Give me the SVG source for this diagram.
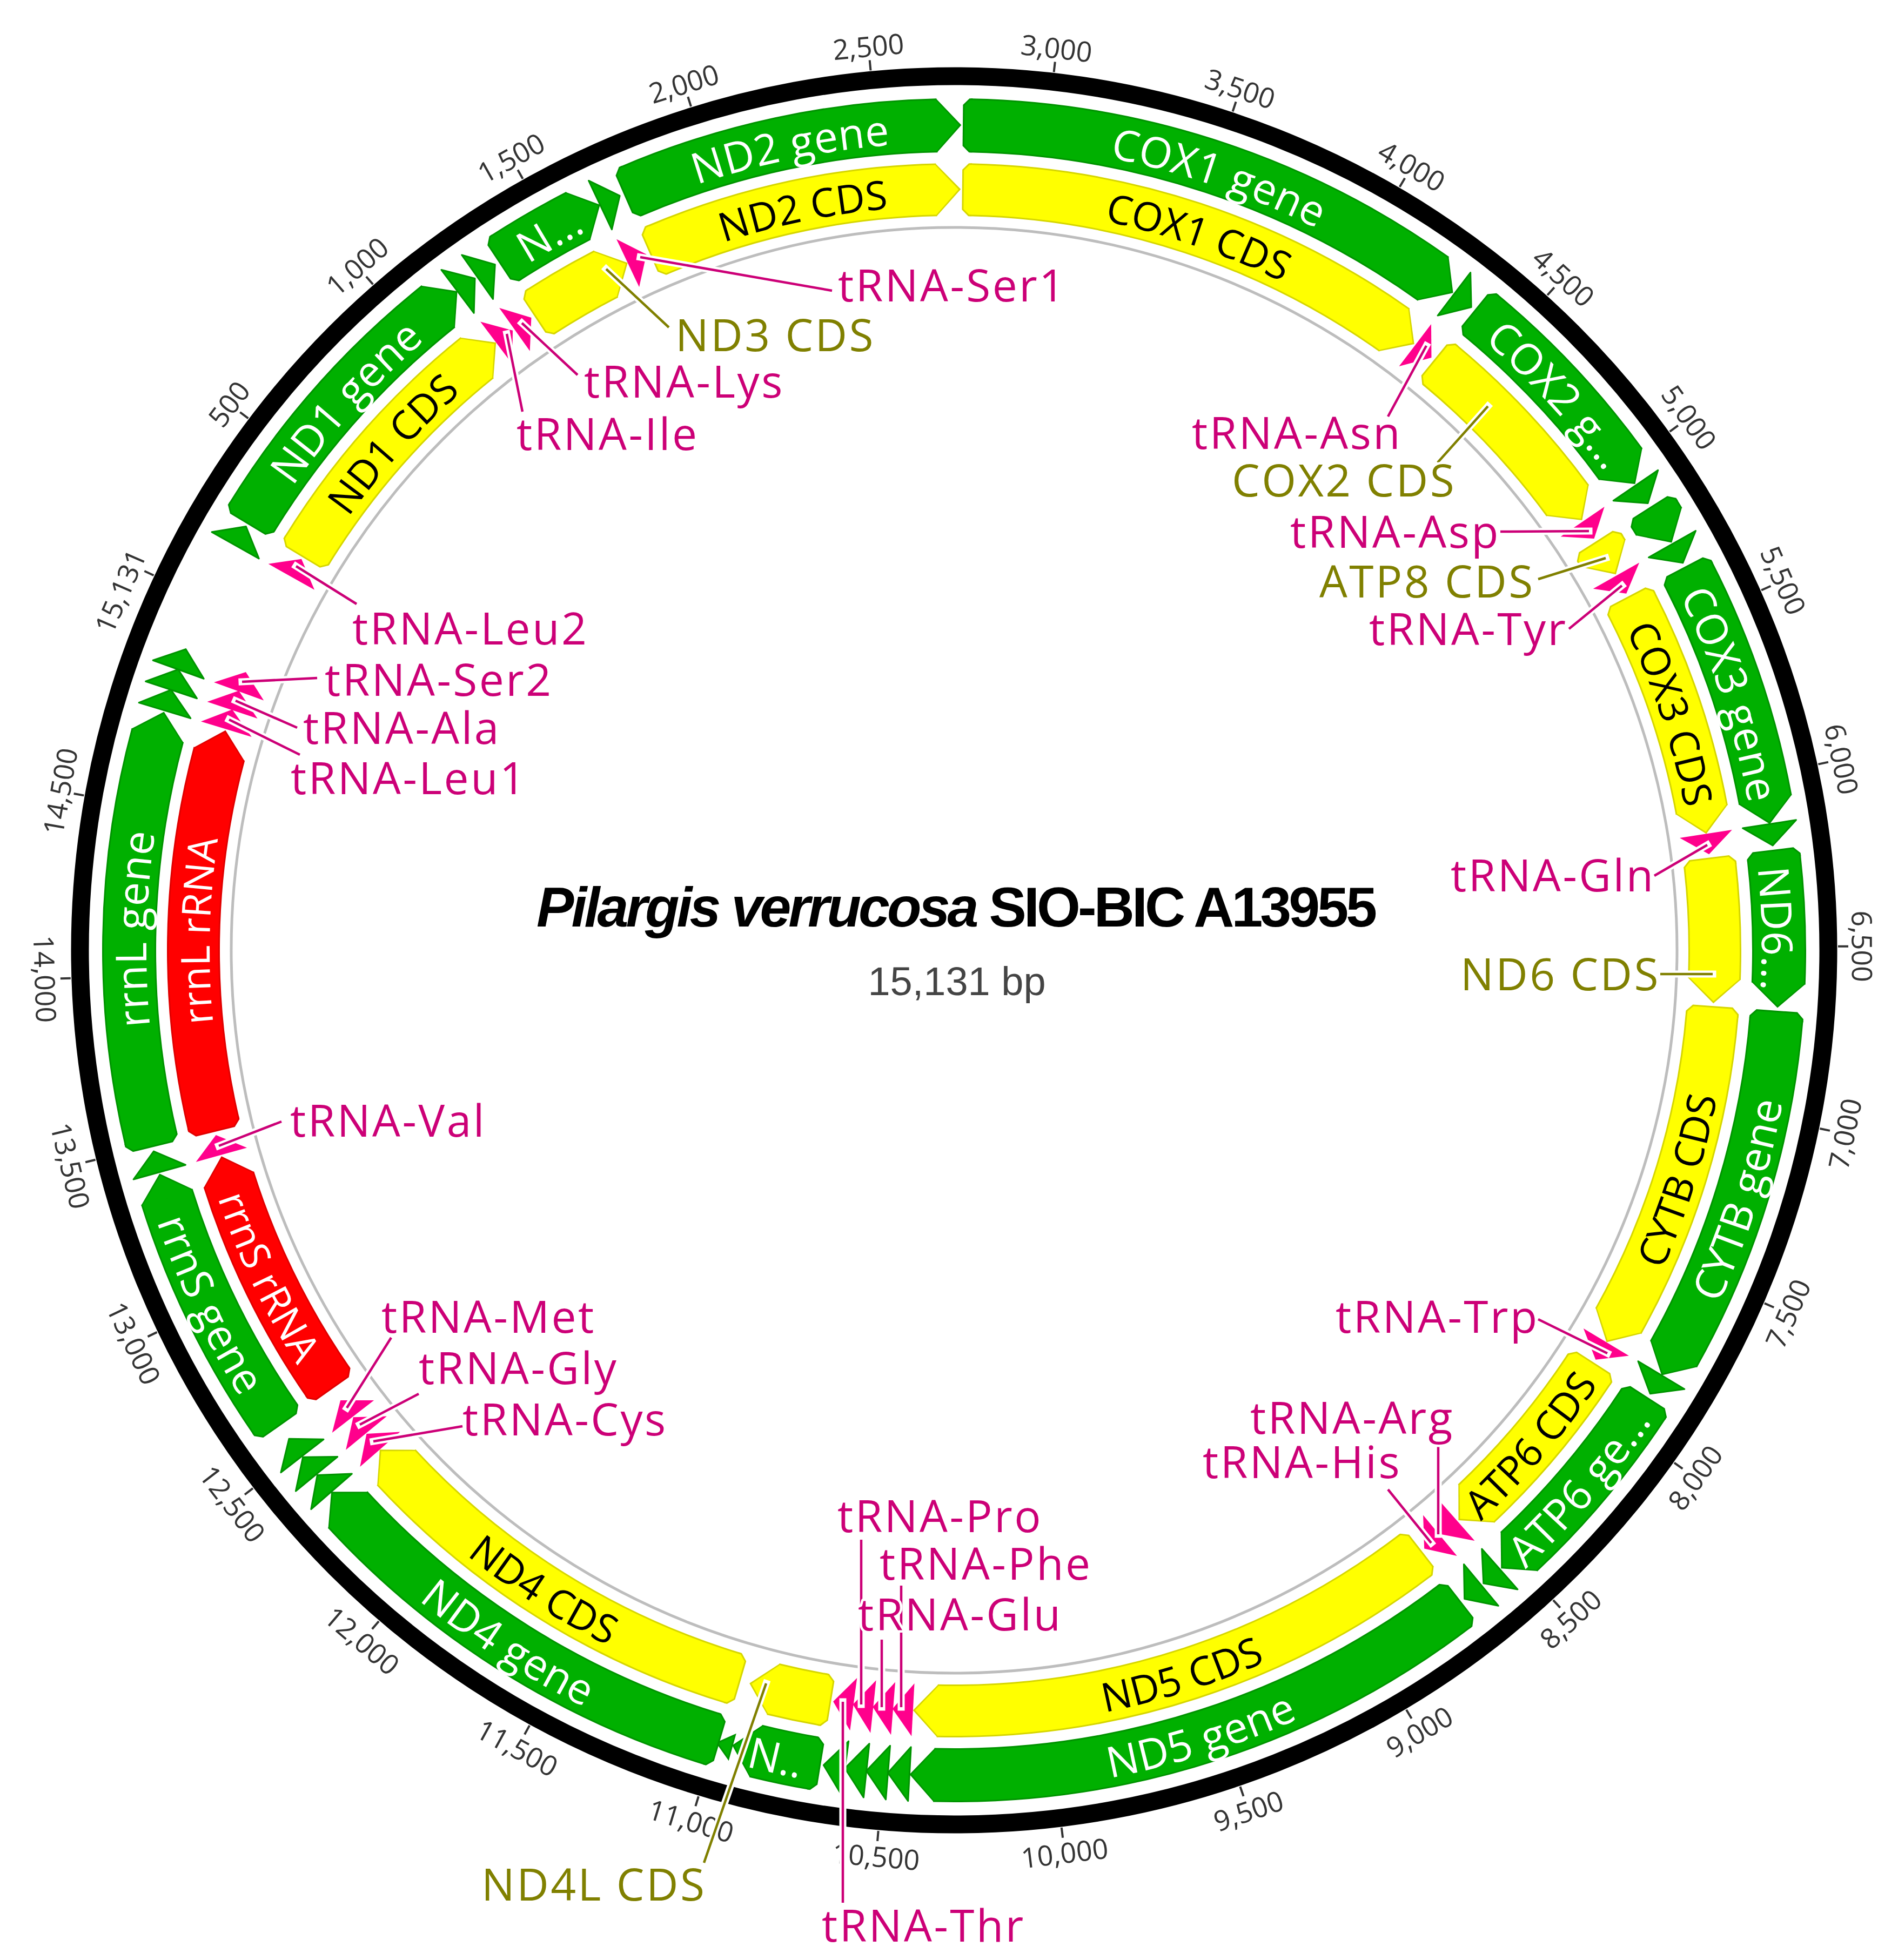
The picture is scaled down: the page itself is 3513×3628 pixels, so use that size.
<svg xmlns="http://www.w3.org/2000/svg" xmlns:xlink="http://www.w3.org/1999/xlink" width="3513" height="3628" viewBox="0 0 3513 3628">
<style>
.gD{fill:none;stroke:#009400;stroke-width:100}
.gL{fill:none;stroke:#00B000;stroke-width:94}
.yD{fill:none;stroke:#D6D600;stroke-width:98}
.yL{fill:none;stroke:#FFFF00;stroke-width:92}
.rD{fill:none;stroke:#E00000;stroke-width:98}
.rL{fill:none;stroke:#FF0000;stroke-width:92}
.lab{font-family:'Open Sans','Noto Sans',sans-serif;font-size:79px;letter-spacing:0.5px}
.labi{font-family:'Open Sans','Noto Sans',sans-serif;font-size:74px;letter-spacing:0px}
.w{fill:#FFFFFF}
.k{fill:#000000}
.cl{font-family:'Open Sans','Noto Sans',sans-serif;font-size:82px;letter-spacing:3.5px;paint-order:stroke;stroke:#FFFFFF;stroke-width:9px;stroke-linejoin:round}
.pk{fill:#CC0077}
.ol{fill:#808000}
.tk{font-family:'Open Sans','Noto Sans',sans-serif;font-size:52px;fill:#333333;text-anchor:middle;dominant-baseline:central}
.tkl{stroke:#333333;stroke-width:4}
.halo{fill:none;stroke:#FFFFFF;stroke-width:13;stroke-linecap:square}
.lp{fill:none;stroke:#CC0077;stroke-width:4.5}
.lo{fill:none;stroke:#808000;stroke-width:4.5}
</style>
<defs>
<path id="aO" d="M -1294.7 -747.5 A 1495 1495 0 0 1 1294.7 -747.5"/>
<path id="aOf" d="M -1350.1 779.5 A 1559 1559 0 0 0 1350.1 779.5"/>
<path id="aI" d="M -1193.4 -689 A 1378 1378 0 0 1 1193.4 -689"/>
<path id="aIf" d="M -1245.3 719 A 1438 1438 0 0 0 1245.3 719"/>
<g id="hG"><polygon points="-1,-1577 45,-1527 -1,-1477" fill="#009400"/><polygon points="-3,-1574 -1.3,-1574 41,-1527 -1.3,-1480 -3,-1480" fill="#00B000"/></g>
<g id="tG"><polygon points="0,-1565 12,-1577 18,-1577 18,-1477 12,-1477 0,-1489" fill="#009400"/><polygon points="3,-1563.8 13.2,-1574 20,-1574 20,-1480 13.2,-1480 3,-1490.2" fill="#00B000"/></g>
<g id="hY"><polygon points="-1,-1457 45,-1408 -1,-1359" fill="#D6D600"/><polygon points="-3,-1454 -1.3,-1454 41,-1408 -1.3,-1362 -3,-1362" fill="#FFFF00"/></g>
<g id="tY"><polygon points="0,-1445 12,-1457 18,-1457 18,-1359 12,-1359 0,-1371" fill="#D6D600"/><polygon points="3,-1443.8 13.2,-1454 20,-1454 20,-1362 13.2,-1362 3,-1372.2" fill="#FFFF00"/></g>
<g id="hR"><polygon points="-1,-1457 45,-1408 -1,-1359" fill="#E00000"/><polygon points="-3,-1454 -1.3,-1454 41,-1408 -1.3,-1362 -3,-1362" fill="#FF0000"/></g>
<g id="tR"><polygon points="0,-1445 12,-1457 18,-1457 18,-1359 12,-1359 0,-1371" fill="#E00000"/><polygon points="3,-1443.8 13.2,-1454 20,-1454 20,-1362 13.2,-1362 3,-1372.2" fill="#FF0000"/></g>
<polygon id="trG" points="0,-1577 40,-1527 0,-1477" fill="#00B000" stroke="#009400" stroke-width="3" stroke-linejoin="round"/>
<polygon id="trP" points="0,-1457 38,-1408 0,-1359" fill="#FF008C"/>
<path id="cp" d="M1185,476 L1540,538 M966,598 L1069,694 M938,618 L967,762 M548,1048 L660,1118 M448,1262 L587,1255 M436,1297 L550,1347 M424,1332 L555,1397 M405,2121 L521,2076 M642,2606 L724,2476 M666,2637 L775,2580 M691,2668 L856,2640 M1594,3155 L1594,2850 M1668,3160 L1668,2935 M1632,3160 L1632,3035 M1560,3150 L1560,3522 M2662,2840 L2662,2668 M2649,2856 L2569,2757 M2975,2505 L2847,2442 M3160,1564 L3062,1621 M3002,1084 L2904,1164 M2941,983 L2777,984 M2640,640 L2569,771"/>
<path id="co" d="M1122,498 L1238,606 M2754,752 L2661,856 M2972,1033 L2847,1072 M3170,1803 L3073,1803 M1418,3116 L1303,3448"/>
</defs>
<rect x="0" y="0" width="3513" height="3628" fill="#FFFFFF"/>
<g transform="translate(1766 1759)">
<g id="backbone">
<circle r="1338" fill="none" stroke="#BDBDBD" stroke-width="5"/>
<circle r="1618" fill="none" stroke="#000000" stroke-width="33"/>
</g>
<g id="ticks">
<line class="tkl" y1="-1636" y2="-1655" transform="rotate(-53.00)"/>
<line class="tkl" y1="-1636" y2="-1655" transform="rotate(-41.11)"/>
<line class="tkl" y1="-1636" y2="-1655" transform="rotate(-29.21)"/>
<line class="tkl" y1="-1636" y2="-1655" transform="rotate(-17.32)"/>
<line class="tkl" y1="-1636" y2="-1655" transform="rotate(-5.42)"/>
<line class="tkl" y1="-1636" y2="-1655" transform="rotate(6.48)"/>
<line class="tkl" y1="-1636" y2="-1655" transform="rotate(18.37)"/>
<line class="tkl" y1="-1636" y2="-1655" transform="rotate(30.27)"/>
<line class="tkl" y1="-1636" y2="-1655" transform="rotate(42.16)"/>
<line class="tkl" y1="-1636" y2="-1655" transform="rotate(54.06)"/>
<line class="tkl" y1="-1636" y2="-1655" transform="rotate(65.96)"/>
<line class="tkl" y1="-1636" y2="-1655" transform="rotate(77.85)"/>
<line class="tkl" y1="-1636" y2="-1655" transform="rotate(89.75)"/>
<line class="tkl" y1="-1636" y2="-1655" transform="rotate(101.64)"/>
<line class="tkl" y1="-1636" y2="-1655" transform="rotate(113.54)"/>
<line class="tkl" y1="-1636" y2="-1655" transform="rotate(125.44)"/>
<line class="tkl" y1="-1636" y2="-1655" transform="rotate(137.33)"/>
<line class="tkl" y1="-1636" y2="-1655" transform="rotate(149.23)"/>
<line class="tkl" y1="-1636" y2="-1655" transform="rotate(161.12)"/>
<line class="tkl" y1="-1636" y2="-1655" transform="rotate(173.02)"/>
<line class="tkl" y1="-1636" y2="-1655" transform="rotate(184.92)"/>
<line class="tkl" y1="-1636" y2="-1655" transform="rotate(196.81)"/>
<line class="tkl" y1="-1636" y2="-1655" transform="rotate(208.71)"/>
<line class="tkl" y1="-1636" y2="-1655" transform="rotate(220.61)"/>
<line class="tkl" y1="-1636" y2="-1655" transform="rotate(232.50)"/>
<line class="tkl" y1="-1636" y2="-1655" transform="rotate(244.40)"/>
<line class="tkl" y1="-1636" y2="-1655" transform="rotate(256.29)"/>
<line class="tkl" y1="-1636" y2="-1655" transform="rotate(268.19)"/>
<line class="tkl" y1="-1636" y2="-1655" transform="rotate(280.09)"/>
<line class="tkl" y1="-1636" y2="-1655" transform="rotate(295.10)"/>
<text class="tk" transform="rotate(-53.00) translate(0 -1682)">500</text>
<text class="tk" transform="rotate(-41.11) translate(0 -1682)">1,000</text>
<text class="tk" transform="rotate(-29.21) translate(0 -1682)">1,500</text>
<text class="tk" transform="rotate(-17.32) translate(0 -1682)">2,000</text>
<text class="tk" transform="rotate(-5.42) translate(0 -1682)">2,500</text>
<text class="tk" transform="rotate(6.48) translate(0 -1682)">3,000</text>
<text class="tk" transform="rotate(18.37) translate(0 -1682)">3,500</text>
<text class="tk" transform="rotate(30.27) translate(0 -1682)">4,000</text>
<text class="tk" transform="rotate(42.16) translate(0 -1682)">4,500</text>
<text class="tk" transform="rotate(54.06) translate(0 -1682)">5,000</text>
<text class="tk" transform="rotate(65.96) translate(0 -1682)">5,500</text>
<text class="tk" transform="rotate(77.85) translate(0 -1682)">6,000</text>
<text class="tk" transform="rotate(89.75) translate(0 -1682)">6,500</text>
<text class="tk" transform="rotate(101.64) translate(0 -1682) rotate(180)">7,000</text>
<text class="tk" transform="rotate(113.54) translate(0 -1682) rotate(180)">7,500</text>
<text class="tk" transform="rotate(125.44) translate(0 -1682) rotate(180)">8,000</text>
<text class="tk" transform="rotate(137.33) translate(0 -1682) rotate(180)">8,500</text>
<text class="tk" transform="rotate(149.23) translate(0 -1682) rotate(180)">9,000</text>
<text class="tk" transform="rotate(161.12) translate(0 -1682) rotate(180)">9,500</text>
<text class="tk" transform="rotate(173.02) translate(0 -1682) rotate(180)">10,000</text>
<text class="tk" transform="rotate(184.92) translate(0 -1682) rotate(180)">10,500</text>
<text class="tk" transform="rotate(196.81) translate(0 -1682) rotate(180)">11,000</text>
<text class="tk" transform="rotate(208.71) translate(0 -1682) rotate(180)">11,500</text>
<text class="tk" transform="rotate(220.61) translate(0 -1682) rotate(180)">12,000</text>
<text class="tk" transform="rotate(232.50) translate(0 -1682) rotate(180)">12,500</text>
<text class="tk" transform="rotate(244.40) translate(0 -1682) rotate(180)">13,000</text>
<text class="tk" transform="rotate(256.29) translate(0 -1682) rotate(180)">13,500</text>
<text class="tk" transform="rotate(268.19) translate(0 -1682) rotate(180)">14,000</text>
<text class="tk" transform="rotate(280.09) translate(0 -1682)">14,500</text>
<text class="tk" transform="rotate(293.3) translate(0 -1682)">15,131</text>
</g>

<g id="ND1-gene"><circle r="1527" class="gD" stroke-dasharray="524.7 9700" transform="rotate(-148.375)"/><circle r="1527" class="gL" stroke-dasharray="524.7 9700" transform="rotate(-148.375)"/><use xlink:href="#hG" transform="rotate(-38.689)"/><use xlink:href="#tG" transform="rotate(-58.9)"/><text class="lab w" transform="rotate(-47.95)"><textPath xlink:href="#aO" startOffset="50%" text-anchor="middle">ND1 gene</textPath></text></g>
<g id="ND3-gene"><circle r="1527" class="gD" stroke-dasharray="156.9 9700" transform="rotate(-122.975)"/><circle r="1527" class="gL" stroke-dasharray="156.9 9700" transform="rotate(-122.975)"/><use xlink:href="#hG" transform="rotate(-27.089)"/><use xlink:href="#tG" transform="rotate(-33.5)"/><text class="lab w" transform="rotate(-29.45)"><textPath xlink:href="#aO" startOffset="50%" text-anchor="middle">N...</textPath></text></g>
<g id="ND2-gene"><circle r="1527" class="gD" stroke-dasharray="583.3 9700" transform="rotate(-113.075)"/><circle r="1527" class="gL" stroke-dasharray="583.3 9700" transform="rotate(-113.075)"/><use xlink:href="#hG" transform="rotate(-1.189)"/><use xlink:href="#tG" transform="rotate(-23.6)"/><text class="lab w" transform="rotate(-11.55)"><textPath xlink:href="#aO" startOffset="50%" text-anchor="middle">ND2 gene</textPath></text></g>
<g id="COX1-gene"><circle r="1527" class="gD" stroke-dasharray="916.4 9700" transform="rotate(-88.875)"/><circle r="1527" class="gL" stroke-dasharray="916.4 9700" transform="rotate(-88.875)"/><use xlink:href="#hG" transform="rotate(35.511)"/><use xlink:href="#tG" transform="rotate(0.6)"/><text class="lab w" transform="rotate(18.9)"><textPath xlink:href="#aO" startOffset="50%" text-anchor="middle">COX1 gene</textPath></text></g>
<g id="COX2-gene"><circle r="1527" class="gD" stroke-dasharray="380.7 9700" transform="rotate(-50.375)"/><circle r="1527" class="gL" stroke-dasharray="380.7 9700" transform="rotate(-50.375)"/><use xlink:href="#hG" transform="rotate(53.911)"/><use xlink:href="#tG" transform="rotate(39.1)"/><text class="lab w" transform="rotate(47.35)"><textPath xlink:href="#aO" startOffset="50%" text-anchor="middle">COX2 g...</textPath></text></g>
<g id="ATP8-gene"><circle r="1527" class="gD" stroke-dasharray="18.3 9700" transform="rotate(-31.975)"/><circle r="1527" class="gL" stroke-dasharray="18.3 9700" transform="rotate(-31.975)"/><use xlink:href="#hG" transform="rotate(58.711)"/><use xlink:href="#tG" transform="rotate(57.5)"/></g>
<g id="COX3-gene"><circle r="1527" class="gD" stroke-dasharray="444.7 9700" transform="rotate(-27.175)"/><circle r="1527" class="gL" stroke-dasharray="444.7 9700" transform="rotate(-27.175)"/><use xlink:href="#hG" transform="rotate(79.511)"/><use xlink:href="#tG" transform="rotate(62.3)"/><text class="lab w" transform="rotate(71.75)"><textPath xlink:href="#aO" startOffset="50%" text-anchor="middle">COX3 gene</textPath></text></g>
<g id="ND6-gene"><circle r="1527" class="gD" stroke-dasharray="234.2 9700" transform="rotate(-6.475)"/><circle r="1527" class="gL" stroke-dasharray="234.2 9700" transform="rotate(-6.475)"/><use xlink:href="#hG" transform="rotate(92.311)"/><use xlink:href="#tG" transform="rotate(83.0)"/><text class="lab w" transform="rotate(88.5)"><textPath xlink:href="#aO" startOffset="50%" text-anchor="middle">ND6...</textPath></text></g>
<g id="CYTB-gene"><circle r="1527" class="gD" stroke-dasharray="655.2 9700" transform="rotate(4.725)"/><circle r="1527" class="gL" stroke-dasharray="655.2 9700" transform="rotate(4.725)"/><use xlink:href="#hG" transform="rotate(119.311)"/><use xlink:href="#tG" transform="rotate(94.2)"/><text class="lab w" transform="rotate(-72.4)"><textPath xlink:href="#aOf" startOffset="50%" text-anchor="middle">CYTB gene</textPath></text></g>
<g id="ATP6-gene"><circle r="1527" class="gD" stroke-dasharray="359.4 9700" transform="rotate(33.325)"/><circle r="1527" class="gL" stroke-dasharray="359.4 9700" transform="rotate(33.325)"/><use xlink:href="#hG" transform="rotate(136.811)"/><use xlink:href="#tG" transform="rotate(122.8)"/><text class="lab w" transform="rotate(-49.35)"><textPath xlink:href="#aOf" startOffset="50%" text-anchor="middle">ATP6 ge...</textPath></text></g>
<g id="ND5-gene"><circle r="1527" class="gD" stroke-dasharray="1033.7 9700" transform="rotate(52.625)"/><circle r="1527" class="gL" stroke-dasharray="1033.7 9700" transform="rotate(52.625)"/><use xlink:href="#hG" transform="rotate(181.411)"/><use xlink:href="#tG" transform="rotate(142.1)"/><text class="lab w" transform="rotate(-17.4)"><textPath xlink:href="#aOf" startOffset="50%" text-anchor="middle">ND5 gene</textPath></text></g>
<g id="ND4L-gene"><circle r="1527" class="gD" stroke-dasharray="108.9 9700" transform="rotate(99.825)"/><circle r="1527" class="gL" stroke-dasharray="108.9 9700" transform="rotate(99.825)"/><use xlink:href="#hG" transform="rotate(193.911)"/><use xlink:href="#tG" transform="rotate(189.3)"/><text class="lab w" transform="rotate(12.45)"><textPath xlink:href="#aOf" startOffset="50%" text-anchor="middle">N..</textPath></text></g>
<g id="small-feature"><polygon points="0,-1554 28,-1531 0,-1508" fill="#00B000" stroke="#009400" stroke-width="3" transform="rotate(195.6)"/></g>
<g id="ND4-gene"><circle r="1527" class="gD" stroke-dasharray="807.2 9700" transform="rotate(107.025)"/><circle r="1527" class="gL" stroke-dasharray="807.2 9700" transform="rotate(107.025)"/><use xlink:href="#hG" transform="rotate(227.311)"/><use xlink:href="#tG" transform="rotate(196.5)"/><text class="lab w" transform="rotate(32.75)"><textPath xlink:href="#aOf" startOffset="50%" text-anchor="middle">ND4 gene</textPath></text></g>
<g id="rrnS-gene"><circle r="1527" class="gD" stroke-dasharray="460.7 9700" transform="rotate(145.325)"/><circle r="1527" class="gL" stroke-dasharray="460.7 9700" transform="rotate(145.325)"/><use xlink:href="#hG" transform="rotate(252.611)"/><use xlink:href="#tG" transform="rotate(234.8)"/><text class="lab w" transform="rotate(64.55)"><textPath xlink:href="#aOf" startOffset="50%" text-anchor="middle">rrnS gene</textPath></text></g>
<g id="rrnL-gene"><circle r="1527" class="gD" stroke-dasharray="756.5 9700" transform="rotate(166.725)"/><circle r="1527" class="gL" stroke-dasharray="756.5 9700" transform="rotate(166.725)"/><use xlink:href="#hG" transform="rotate(285.111)"/><use xlink:href="#tG" transform="rotate(256.2)"/><text class="lab w" transform="rotate(271.5)"><textPath xlink:href="#aO" startOffset="50%" text-anchor="middle">rrnL gene</textPath></text></g>

<g id="ND1-CDS"><circle r="1408" class="yD" stroke-dasharray="479.2 9000" transform="rotate(-148.33)"/><circle r="1408" class="yL" stroke-dasharray="479.2 9000" transform="rotate(-148.33)"/><use xlink:href="#hY" transform="rotate(-38.831)"/><use xlink:href="#tY" transform="rotate(-58.9)"/><text class="labi k" transform="rotate(-47.95)"><textPath xlink:href="#aI" startOffset="50%" text-anchor="middle">ND1 CDS</textPath></text></g>
<g id="ND3-CDS"><circle r="1408" class="yD" stroke-dasharray="140.0 9000" transform="rotate(-122.93)"/><circle r="1408" class="yL" stroke-dasharray="140.0 9000" transform="rotate(-122.93)"/><use xlink:href="#hY" transform="rotate(-27.231)"/><use xlink:href="#tY" transform="rotate(-33.5)"/></g>
<g id="ND2-CDS"><circle r="1408" class="yD" stroke-dasharray="533.2 9000" transform="rotate(-113.03)"/><circle r="1408" class="yL" stroke-dasharray="533.2 9000" transform="rotate(-113.03)"/><use xlink:href="#hY" transform="rotate(-1.331)"/><use xlink:href="#tY" transform="rotate(-23.6)"/><text class="labi k" transform="rotate(-11.55)"><textPath xlink:href="#aI" startOffset="50%" text-anchor="middle">ND2 CDS</textPath></text></g>
<g id="COX1-CDS"><circle r="1408" class="yD" stroke-dasharray="840.4 9000" transform="rotate(-88.83)"/><circle r="1408" class="yL" stroke-dasharray="840.4 9000" transform="rotate(-88.83)"/><use xlink:href="#hY" transform="rotate(35.369)"/><use xlink:href="#tY" transform="rotate(0.6)"/><text class="labi k" transform="rotate(18.9)"><textPath xlink:href="#aI" startOffset="50%" text-anchor="middle">COX1 CDS</textPath></text></g>
<g id="COX2-CDS"><circle r="1408" class="yD" stroke-dasharray="346.5 9000" transform="rotate(-50.33)"/><circle r="1408" class="yL" stroke-dasharray="346.5 9000" transform="rotate(-50.33)"/><use xlink:href="#hY" transform="rotate(53.769)"/><use xlink:href="#tY" transform="rotate(39.1)"/></g>
<g id="ATP8-CDS"><circle r="1408" class="yD" stroke-dasharray="12.3 9000" transform="rotate(-31.93)"/><circle r="1408" class="yL" stroke-dasharray="12.3 9000" transform="rotate(-31.93)"/><use xlink:href="#hY" transform="rotate(58.569)"/><use xlink:href="#tY" transform="rotate(57.5)"/></g>
<g id="COX3-CDS"><circle r="1408" class="yD" stroke-dasharray="405.4 9000" transform="rotate(-27.13)"/><circle r="1408" class="yL" stroke-dasharray="405.4 9000" transform="rotate(-27.13)"/><use xlink:href="#hY" transform="rotate(79.369)"/><use xlink:href="#tY" transform="rotate(62.3)"/><text class="labi k" transform="rotate(71.75)"><textPath xlink:href="#aI" startOffset="50%" text-anchor="middle">COX3 CDS</textPath></text></g>
<g id="ND6-CDS"><circle r="1408" class="yD" stroke-dasharray="211.3 9000" transform="rotate(-6.43)"/><circle r="1408" class="yL" stroke-dasharray="211.3 9000" transform="rotate(-6.43)"/><use xlink:href="#hY" transform="rotate(92.169)"/><use xlink:href="#tY" transform="rotate(83.0)"/></g>
<g id="CYTB-CDS"><circle r="1408" class="yD" stroke-dasharray="599.6 9000" transform="rotate(4.77)"/><circle r="1408" class="yL" stroke-dasharray="599.6 9000" transform="rotate(4.77)"/><use xlink:href="#hY" transform="rotate(119.169)"/><use xlink:href="#tY" transform="rotate(94.2)"/><text class="labi k" transform="rotate(-72.4)"><textPath xlink:href="#aIf" startOffset="50%" text-anchor="middle">CYTB CDS</textPath></text></g>
<g id="ATP6-CDS"><circle r="1408" class="yD" stroke-dasharray="326.8 9000" transform="rotate(33.37)"/><circle r="1408" class="yL" stroke-dasharray="326.8 9000" transform="rotate(33.37)"/><use xlink:href="#hY" transform="rotate(136.669)"/><use xlink:href="#tY" transform="rotate(122.8)"/><text class="labi k" transform="rotate(-49.35)"><textPath xlink:href="#aIf" startOffset="50%" text-anchor="middle">ATP6 CDS</textPath></text></g>
<g id="ND5-CDS"><circle r="1408" class="yD" stroke-dasharray="948.5 9000" transform="rotate(52.67)"/><circle r="1408" class="yL" stroke-dasharray="948.5 9000" transform="rotate(52.67)"/><use xlink:href="#hY" transform="rotate(181.269)"/><use xlink:href="#tY" transform="rotate(142.1)"/><text class="labi k" transform="rotate(-17.4)"><textPath xlink:href="#aIf" startOffset="50%" text-anchor="middle">ND5 CDS</textPath></text></g>
<g id="ND4L-CDS"><circle r="1408" class="yD" stroke-dasharray="95.8 9000" transform="rotate(99.87)"/><circle r="1408" class="yL" stroke-dasharray="95.8 9000" transform="rotate(99.87)"/><use xlink:href="#hY" transform="rotate(193.769)"/><use xlink:href="#tY" transform="rotate(189.3)"/></g>
<g id="ND4-CDS"><circle r="1408" class="yD" stroke-dasharray="744.6 9000" transform="rotate(106.87)"/><circle r="1408" class="yL" stroke-dasharray="744.6 9000" transform="rotate(106.87)"/><use xlink:href="#hY" transform="rotate(227.169)"/><use xlink:href="#tY" transform="rotate(196.3)"/><text class="labi k" transform="rotate(32.65)"><textPath xlink:href="#aIf" startOffset="50%" text-anchor="middle">ND4 CDS</textPath></text></g>
<g id="rrnS-rRNA"><circle r="1408" class="rD" stroke-dasharray="420.2 9000" transform="rotate(145.37)"/><circle r="1408" class="rL" stroke-dasharray="420.2 9000" transform="rotate(145.37)"/><use xlink:href="#hR" transform="rotate(252.469)"/><use xlink:href="#tR" transform="rotate(234.8)"/><text class="labi w" transform="rotate(64.55)"><textPath xlink:href="#aIf" startOffset="50%" text-anchor="middle">rrnS rRNA</textPath></text></g>
<g id="rrnL-rRNA"><circle r="1408" class="rD" stroke-dasharray="693.0 9000" transform="rotate(166.77)"/><circle r="1408" class="rL" stroke-dasharray="693.0 9000" transform="rotate(166.77)"/><use xlink:href="#hR" transform="rotate(284.969)"/><use xlink:href="#tR" transform="rotate(256.2)"/><text class="labi w" transform="rotate(271.5)"><textPath xlink:href="#aI" startOffset="50%" text-anchor="middle">rrnL rRNA</textPath></text></g>

<g id="tRNA-Leu2"><use xlink:href="#trG" transform="rotate(-60.6)"/><use xlink:href="#trP" transform="rotate(-60.6)"/></g>
<g id="tRNA-Ile"><use xlink:href="#trG" transform="rotate(-37.0)"/><use xlink:href="#trP" transform="rotate(-37.0)"/></g>
<g id="tRNA-Lys"><use xlink:href="#trG" transform="rotate(-35.3)"/><use xlink:href="#trP" transform="rotate(-35.3)"/></g>
<g id="tRNA-Ser1"><use xlink:href="#trG" transform="rotate(-25.4)"/><use xlink:href="#trP" transform="rotate(-25.4)"/></g>
<g id="tRNA-Asn"><use xlink:href="#trG" transform="rotate(37.3)"/><use xlink:href="#trP" transform="rotate(37.3)"/></g>
<g id="tRNA-Asp"><use xlink:href="#trG" transform="rotate(55.7)"/><use xlink:href="#trP" transform="rotate(55.7)"/></g>
<g id="tRNA-Tyr"><use xlink:href="#trG" transform="rotate(60.5)"/><use xlink:href="#trP" transform="rotate(60.5)"/></g>
<g id="tRNA-Gln"><use xlink:href="#trG" transform="rotate(81.2)"/><use xlink:href="#trP" transform="rotate(81.2)"/></g>
<g id="tRNA-Trp"><use xlink:href="#trG" transform="rotate(121.0)"/><use xlink:href="#trP" transform="rotate(121.0)"/></g>
<g id="tRNA-Arg"><use xlink:href="#trG" transform="rotate(138.6)"/><use xlink:href="#trP" transform="rotate(138.6)"/></g>
<g id="tRNA-His"><use xlink:href="#trG" transform="rotate(140.3)"/><use xlink:href="#trP" transform="rotate(140.3)"/></g>
<g id="tRNA-Phe"><use xlink:href="#trG" transform="rotate(183.1)"/><use xlink:href="#trP" transform="rotate(183.1)"/></g>
<g id="tRNA-Glu"><use xlink:href="#trG" transform="rotate(184.6)"/><use xlink:href="#trP" transform="rotate(184.6)"/></g>
<g id="tRNA-Pro"><use xlink:href="#trG" transform="rotate(186.1)"/><use xlink:href="#trP" transform="rotate(186.1)"/></g>
<g id="tRNA-Thr"><use xlink:href="#trG" transform="rotate(187.6)"/><use xlink:href="#trP" transform="rotate(187.6)"/></g>
<g id="tRNA-Cys"><use xlink:href="#trG" transform="rotate(229.0)"/><use xlink:href="#trP" transform="rotate(229.0)"/></g>
<g id="tRNA-Gly"><use xlink:href="#trG" transform="rotate(230.6)"/><use xlink:href="#trP" transform="rotate(230.6)"/></g>
<g id="tRNA-Met"><use xlink:href="#trG" transform="rotate(232.2)"/><use xlink:href="#trP" transform="rotate(232.2)"/></g>
<g id="tRNA-Val"><use xlink:href="#trG" transform="rotate(254.4)"/><use xlink:href="#trP" transform="rotate(254.4)"/></g>
<g id="tRNA-Leu1"><use xlink:href="#trG" transform="rotate(286.9)"/><use xlink:href="#trP" transform="rotate(286.9)"/></g>
<g id="tRNA-Ala"><use xlink:href="#trG" transform="rotate(288.4)"/><use xlink:href="#trP" transform="rotate(288.4)"/></g>
<g id="tRNA-Ser2"><use xlink:href="#trG" transform="rotate(289.9)"/><use xlink:href="#trP" transform="rotate(289.9)"/></g>
</g>

<g id="connectors">
<use xlink:href="#cp" class="halo"/>
<use xlink:href="#co" class="halo"/>
<use xlink:href="#cp" class="lp"/>
<use xlink:href="#co" class="lo"/>
</g>

<g id="callout-labels">
<text class="cl pk" x="1551" y="558">tRNA-Ser1</text>
<text class="cl ol" x="1250" y="650">ND3 CDS</text>
<text class="cl pk" x="1081" y="736">tRNA-Lys</text>
<text class="cl pk" x="956" y="833">tRNA-Ile</text>
<text class="cl pk" x="652" y="1193">tRNA-Leu2</text>
<text class="cl pk" x="601" y="1288">tRNA-Ser2</text>
<text class="cl pk" x="561" y="1377">tRNA-Ala</text>
<text class="cl pk" x="538" y="1470">tRNA-Leu1</text>
<text class="cl pk" x="537" y="2104">tRNA-Val</text>
<text class="cl pk" x="706" y="2467">tRNA-Met</text>
<text class="cl pk" x="775" y="2562">tRNA-Gly</text>
<text class="cl pk" x="856" y="2657">tRNA-Cys</text>
<text class="cl pk" x="1550" y="2836">tRNA-Pro</text>
<text class="cl pk" x="1628" y="2924">tRNA-Phe</text>
<text class="cl pk" x="1588" y="3018">tRNA-Glu</text>
<text class="cl pk" x="1521" y="3594">tRNA-Thr</text>
<text class="cl ol" x="891" y="3518">ND4L CDS</text>
<text class="cl pk" x="2226" y="2736">tRNA-His</text>
<text class="cl pk" x="2314" y="2654">tRNA-Arg</text>
<text class="cl pk" x="2472" y="2467">tRNA-Trp</text>
<text class="cl ol" x="2703" y="1833">ND6 CDS</text>
<text class="cl pk" x="2685" y="1650">tRNA-Gln</text>
<text class="cl pk" x="2534" y="1194">tRNA-Tyr</text>
<text class="cl ol" x="2442" y="1106">ATP8 CDS</text>
<text class="cl pk" x="2388" y="1014">tRNA-Asp</text>
<text class="cl ol" x="2280" y="919">COX2 CDS</text>
<text class="cl pk" x="2206" y="831">tRNA-Asn</text>
</g>

<g id="title">
<text x="1771" y="1715" font-family="'Liberation Sans',Arial,sans-serif" font-weight="bold" font-size="104" text-anchor="middle" textLength="1556" lengthAdjust="spacing" fill="#000000"><tspan font-style="italic">Pilargis verrucosa</tspan> SIO-BIC A13955</text>
<text x="1771" y="1842" font-family="'Liberation Sans',Arial,sans-serif" font-size="74" text-anchor="middle" fill="#444444">15,131 bp</text>
</g>
</svg>
